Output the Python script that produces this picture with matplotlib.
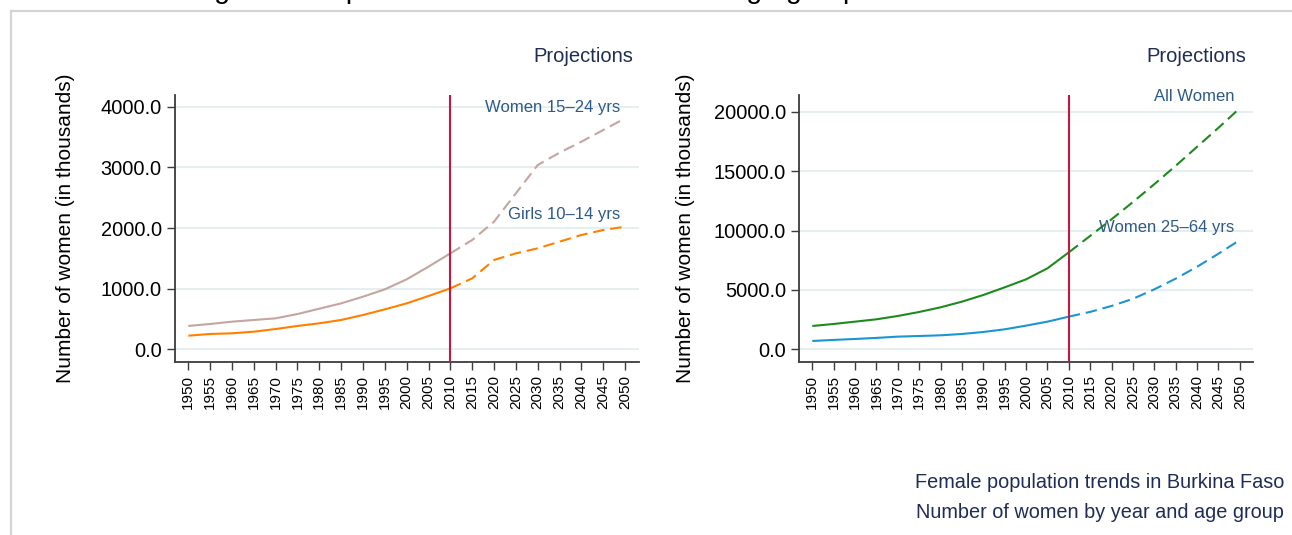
## female population trends, two panels with projections after 2010
import numpy as np
import matplotlib.pyplot as plt
from matplotlib.lines import Line2D

plt.rcParams['font.family'] = ['Liberation Sans', 'DejaVu Sans']

## ------------ data (thousands) ----------------------
years = [1950, 1955, 1960, 1965, 1970, 1975, 1980, 1985, 1990, 1995, 2000,
         2005, 2010, 2015, 2020, 2025, 2030, 2035, 2040, 2045, 2050]

women_15_24 = [385, 418, 456, 484, 511, 582, 670, 758, 868, 989, 1154,
               1363, 1582, 1802, 2104, 2571, 3038, 3242, 3423, 3615, 3808]
girls_10_14 = [225, 253, 264, 291, 335, 385, 429, 484, 566, 659, 758,
               879, 1005, 1170, 1473, 1582, 1665, 1775, 1885, 1967, 2022]

all_women = [1964, 2132, 2328, 2525, 2805, 3142, 3534, 4011, 4572, 5217, 5891,
             6816, 8163, 9550, 10950, 12400, 13900, 15450, 17050, 18650, 20300]
women_25_64 = [701, 790, 870, 960, 1066, 1120, 1178, 1290, 1459, 1683, 1992,
               2328, 2749, 3150, 3650, 4250, 5050, 5950, 6950, 8050, 9200]

cut_year = 2010
left_yticks = [0, 1000, 2000, 3000, 4000]
right_yticks = [0, 5000, 10000, 15000, 20000]
## ----------------------------------------------------

navy = '#1f2d56'
lbl_blue = '#2d5a86'
grid_clr = '#e6eef0'
axis_clr = '#3c3c3c'
vline_clr = '#c8173f'

W, H = 1292, 535
fig = plt.figure(figsize=(W / 100, H / 100), dpi=100)


def px_axes(x0, x1, ytop, ybot):
    return fig.add_axes([x0 / W, 1 - ybot / H, (x1 - x0) / W, (ybot - ytop) / H])


def plot_split(ax, x, y, color):
    x = np.array(x)
    y = np.array(y)
    past = x <= cut_year
    fut = x >= cut_year
    ax.plot(x[past], y[past], color=color, lw=1.5, solid_capstyle='butt')
    ax.plot(x[fut], y[fut], color=color, lw=1.5, dashes=(5.5, 2.8))


def style_axes(ax, yticks, ylim, xlim):
    ax.set_xlim(*xlim)
    ax.set_ylim(*ylim)
    ax.set_yticks(yticks)
    ax.set_yticklabels([f'{v:.1f}' for v in yticks], fontsize=14.4)
    ax.set_xticks(years)
    ax.set_xticklabels([str(v) for v in years], rotation=90, fontsize=11)
    ax.tick_params(axis='both', direction='out', length=6, width=1, color=axis_clr, pad=3.5)
    for s in ['top', 'right']:
        ax.spines[s].set_visible(False)
    for s in ['left', 'bottom']:
        ax.spines[s].set_color(axis_clr)
        ax.spines[s].set_linewidth(1.3)
    for v in yticks:
        ax.axhline(v, color=grid_clr, lw=1.5, zorder=0)
    ax.axvline(cut_year, color=vline_clr, lw=1.5, zorder=3)
    ax.set_ylabel('Number of women (in thousands)', fontsize=15)


## left panel
ax1 = px_axes(175, 639, 95, 362)
style_axes(ax1, left_yticks, (-209, 4193), (1946.95, 2053.2))
plot_split(ax1, years, women_15_24, '#c4a59f')
plot_split(ax1, years, girls_10_14, '#ff8000')
ax1.yaxis.set_label_coords(-0.2155, 0.5)
ax1.text(2048.8, 3990, 'Women 15\u201324 yrs', ha='right', va='center', fontsize=12, color=lbl_blue)
ax1.text(2048.8, 2230, 'Girls 10\u201314 yrs', ha='right', va='center', fontsize=12, color=lbl_blue)

## right panel
ax2 = px_axes(799.3, 1252.7, 95, 362.3)
style_axes(ax2, right_yticks, (-1094, 21406), (1946.96, 2053.0))
plot_split(ax2, years, all_women, '#1e8a1e')
plot_split(ax2, years, women_25_64, '#1b96cf')
ax2.yaxis.set_label_coords(-0.23, 0.5)
ax2.text(2048.8, 21250, 'All Women', ha='right', va='center', fontsize=12, color=lbl_blue)
ax2.text(2048.8, 10250, 'Women 25\u201364 yrs', ha='right', va='center', fontsize=12, color=lbl_blue)

## headers over each panel
fig.text(633 / W, 1 - 57 / H, 'Projections', ha='right', va='center', fontsize=14.5, color=navy)
fig.text(1246 / W, 1 - 57 / H, 'Projections', ha='right', va='center', fontsize=14.5, color=navy)

## notes bottom right
fig.text(1284 / W, 1 - 483 / H, 'Female population trends in Burkina Faso',
         ha='right', va='center', fontsize=14.3, color=navy)
fig.text(1284 / W, 1 - 513 / H, 'Number of women by year and age group',
         ha='right', va='center', fontsize=14.3, color=navy)

## title mostly cut off at the top edge, only descenders visible
fig.text(150 / W, 1 + 2 / H, 'Young women: past and future totals for each age group',
         ha='left', va='baseline', fontsize=20.5, color='black')

## outer frame (top and left edges only are inside the picture)
fig.add_artist(Line2D([10.5 / W, 1.0], [1 - 10.5 / H, 1 - 10.5 / H],
                      transform=fig.transFigure, color='#d4d4d4', lw=1.6))
fig.add_artist(Line2D([10.5 / W, 10.5 / W], [0.0, 1 - 10.5 / H],
                      transform=fig.transFigure, color='#d4d4d4', lw=1.6))

fig.savefig('out.png', dpi=100)
